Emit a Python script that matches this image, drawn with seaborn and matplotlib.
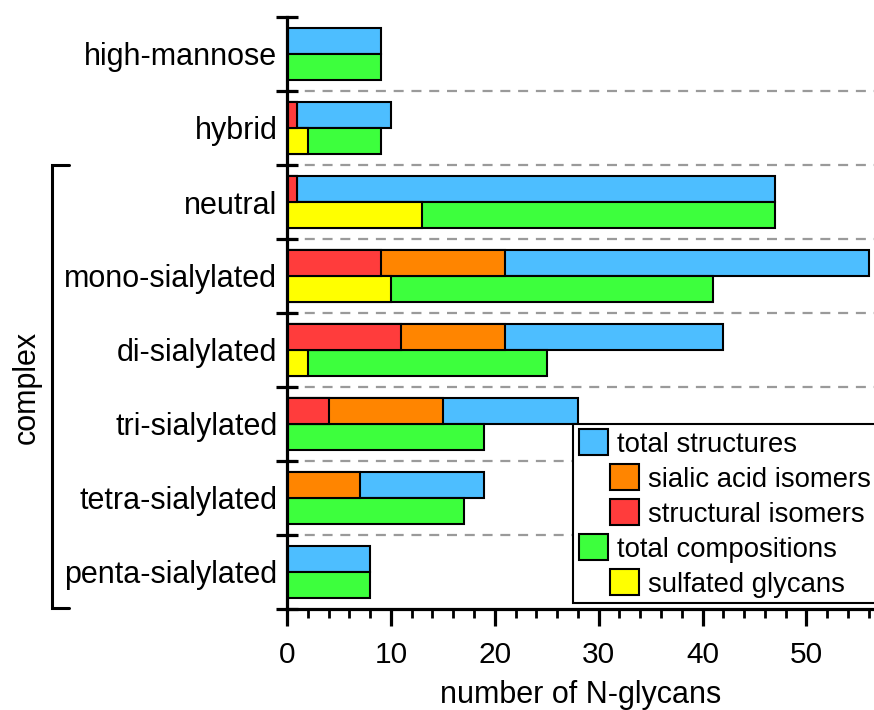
import numpy as np
import pandas as pd
import matplotlib
matplotlib.use("Agg")
import matplotlib.pyplot as plt
import matplotlib.transforms as mtransforms
from matplotlib.patches import Patch
from matplotlib.offsetbox import DrawingArea
from matplotlib.ticker import MultipleLocator
import seaborn as sns

# ---------------- data ----------------
categories = ["high-mannose", "hybrid", "neutral", "mono-sialylated",
              "di-sialylated", "tri-sialylated", "tetra-sialylated",
              "penta-sialylated"]
total_structures = [9, 10, 47, 56, 42, 28, 19, 8]
sialic_acid_isomers = [0, 0, 0, 12, 10, 11, 7, 0]
structural_isomers = [0, 1, 1, 9, 11, 4, 0, 0]
total_compositions = [9, 9, 47, 41, 25, 19, 17, 8]
sulfated_glycans = [0, 2, 13, 10, 2, 0, 0, 0]
complex_categories = categories[2:]
legend_labels = ["total structures", "sialic acid isomers", "structural isomers",
                 "total compositions", "sulfated glycans"]
x_ticks = [0, 10, 20, 30, 40, 50]
x_label = "number of N-glycans"
group_label = "complex"

C_BLUE = "#4DBEFF"
C_ORANGE = "#FF8500"
C_RED = "#FF3C3C"
C_GREEN = "#3DFF3D"
C_YELLOW = "#FFFF00"

sns.set_style("ticks")
plt.rcParams["font.family"] = ["Liberation Sans", "DejaVu Sans"]
for key in ["text.color", "axes.labelcolor", "xtick.color", "ytick.color",
            "axes.edgecolor", "xtick.labelcolor", "ytick.labelcolor"]:
    plt.rcParams[key] = "black"

fig = plt.figure(figsize=(8.74, 7.10), dpi=100)
ax = fig.add_axes([287 / 874, 101 / 710, 587 / 874, 592 / 710])

kinds = ["structures", "compositions"]
n = len(categories)


def layer(struct_vals, comp_vals, struct_color, comp_color):
    df = pd.DataFrame({
        "category": categories * 2,
        "kind": ["structures"] * n + ["compositions"] * n,
        "value": list(struct_vals) + list(comp_vals),
    })
    sns.barplot(data=df, x="value", y="category", hue="kind",
                order=categories, hue_order=kinds,
                palette={"structures": struct_color, "compositions": comp_color},
                orient="h", width=0.7, dodge=True, saturation=1,
                errorbar=None, edgecolor="black", linewidth=1.5,
                legend=False, ax=ax)


# totals
layer(total_structures, total_compositions, C_BLUE, C_GREEN)
# isomers (cumulative) and sulfated
iso_cum = [a + b for a, b in zip(structural_isomers, sialic_acid_isomers)]
layer(iso_cum, sulfated_glycans, C_ORANGE, C_YELLOW)
# structural isomers
layer(structural_isomers, [0] * n, C_RED, C_YELLOW)

# axes limits
ax.set_xlim(0, 56.5)
ax.set_ylim(n - 0.5, -0.5)

# separators
for k in range(n - 1):
    ax.axhline(k + 0.5, color="#9A9A9A", lw=1.6, ls=(0, (4.5, 3.5)), zorder=0.5)

# y ticks: boundaries as major ticks, labels at centers
ax.set_yticks([k - 0.5 for k in range(n + 1)])
ax.set_yticklabels([""] * (n + 1))
ax.set_yticks(list(range(n)), minor=True)
ax.set_yticklabels(categories, minor=True, fontsize=22)
ax.tick_params(axis="y", which="major", direction="inout", length=16.5, width=2.3, color="black")
ax.tick_params(axis="y", which="minor", length=0, pad=7)
ax.set_ylabel("")

# x ticks
ax.set_xticks(x_ticks)
ax.xaxis.set_minor_locator(MultipleLocator(2))
ax.tick_params(axis="x", which="major", direction="out", length=12, width=2.3,
               labelsize=21.5, pad=11, color="black")
ax.tick_params(axis="x", which="minor", direction="out", length=6.5, width=2.0, color="black")
ax.set_xlabel(x_label, fontsize=22, labelpad=8)

for side in ["top", "right"]:
    ax.spines[side].set_visible(False)
for side in ["left", "bottom"]:
    ax.spines[side].set_linewidth(2.3)
    ax.spines[side].set_color("black")

# bracket for complex group
trans = mtransforms.blended_transform_factory(ax.transAxes, ax.transData)
y_top = categories.index(complex_categories[0]) - 0.5
y_bot = categories.index(complex_categories[-1]) + 0.5
xb, xs = -0.400, -0.372
ax.plot([xs, xb, xb, xs], [y_top, y_top, y_bot - 0.02, y_bot - 0.02], transform=trans,
        clip_on=False, color="black", lw=2.2, solid_joinstyle="miter")
ax.text(-0.443, (y_top + y_bot) / 2, group_label, rotation=90, transform=trans,
        ha="center", va="center", fontsize=22)

# legend
colors = [C_BLUE, C_ORANGE, C_RED, C_GREEN, C_YELLOW]
handles = [Patch(facecolor=c, edgecolor="black", linewidth=1.5, label=l)
           for c, l in zip(colors, legend_labels)]
leg = ax.legend(handles=handles, loc="lower left", bbox_to_anchor=(0.488, 0.010),
                bbox_transform=ax.transAxes, borderaxespad=0, fontsize=19.8,
                frameon=True, fancybox=False, framealpha=1, edgecolor="black",
                handlelength=1.05, handleheight=1.05, handletextpad=0.35,
                labelspacing=0.25, borderpad=0.2)
leg.get_frame().set_linewidth(1.5)
indent_pt = 31 * 72 / 100 - 0.35 * 19.8
entries = leg._legend_handle_box.get_children()[0].get_children()
for i in (1, 2, 4):
    entries[i].get_children().insert(0, DrawingArea(indent_pt, 1))
# extra room on the right so the frame runs past the figure edge
entries[1].get_children().append(DrawingArea(8, 1))

fig.savefig("out.png", dpi=100)
